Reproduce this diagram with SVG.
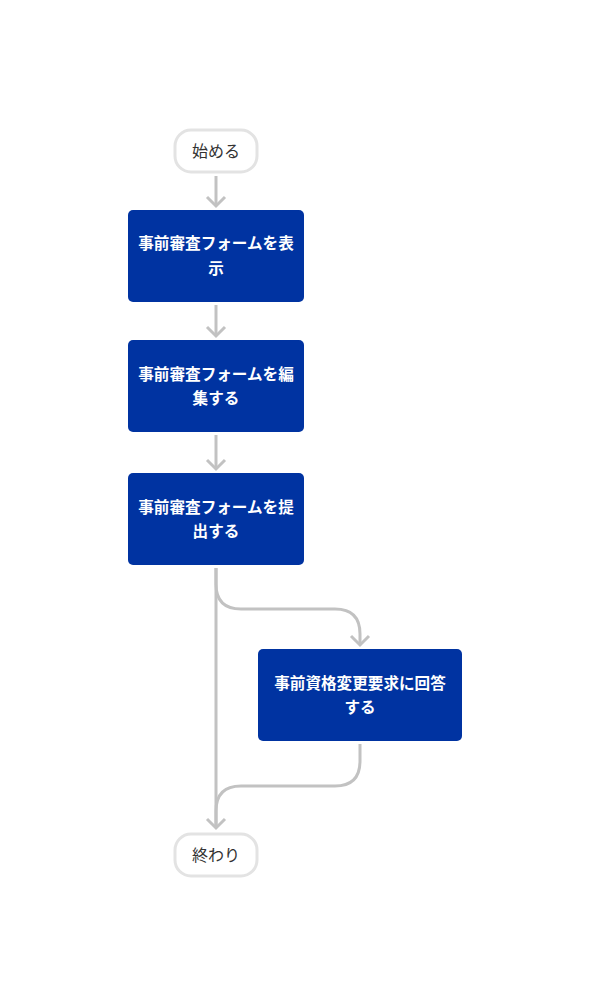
<svg xmlns="http://www.w3.org/2000/svg" width="590" height="1006" viewBox="0 0 590 1006">
<style>
.term rect{fill:#fff;stroke:#e3e3e3;stroke-width:3}
.term text{font-family:"Noto Sans CJK JP","Noto Sans",sans-serif;font-size:16px;fill:#333;text-anchor:middle}
.proc rect{fill:#0033a1}
.proc text{font-family:"Noto Sans CJK JP","Noto Sans",sans-serif;font-size:15.6px;font-weight:bold;fill:#fff;text-anchor:middle}
.edge{fill:none;stroke:#c2c2c2;stroke-width:3}
</style>
<rect width="590" height="1006" fill="#fff"/>
<g id="connectors">
<path class="edge" d="M216 176 V206"/>
<path class="edge" d="M216 305 V336"/>
<path class="edge" d="M216 435 V469"/>
<path class="edge" d="M216 568 V828"/>
<path class="edge" d="M216 568 V584 Q216 609 241 609 H335 Q360 609 360 634 V645"/>
<path class="edge" d="M360 744 V761 Q360 786 335 786 H241 Q216 786 216 811 V828"/>
<g id="arrowheads" fill="none" stroke="#c2c2c2" stroke-width="3">
<path d="M207 197 L216 206 L225 197"/>
<path d="M207 327 L216 336 L225 327"/>
<path d="M207 460 L216 469 L225 460"/>
<path d="M351 636 L360 645 L369 636"/>
<path d="M207 819 L216 828 L225 819"/>
</g>
</g>
<g id="start" class="term">
<rect x="175" y="130" width="82" height="42" rx="16"/>
<text x="216" y="157">始める</text>
</g>
<g id="n1" class="proc">
<rect x="128" y="210" width="176" height="92" rx="5"/>
<text x="216" y="249">事前審査フォームを表</text>
<text x="216" y="274">示</text>
</g>
<g id="n2" class="proc">
<rect x="128" y="340" width="176" height="92" rx="5"/>
<text x="216" y="380">事前審査フォームを編</text>
<text x="216" y="404">集する</text>
</g>
<g id="n3" class="proc">
<rect x="128" y="473" width="176" height="92" rx="5"/>
<text x="216" y="513">事前審査フォームを提</text>
<text x="216" y="537">出する</text>
</g>
<g id="n4" class="proc">
<rect x="258" y="649" width="204" height="92" rx="5"/>
<text x="360" y="689">事前資格変更要求に回答</text>
<text x="360" y="713">する</text>
</g>
<g id="end" class="term">
<rect x="175" y="834" width="82" height="42" rx="16"/>
<text x="216" y="861">終わり</text>
</g>
</svg>
